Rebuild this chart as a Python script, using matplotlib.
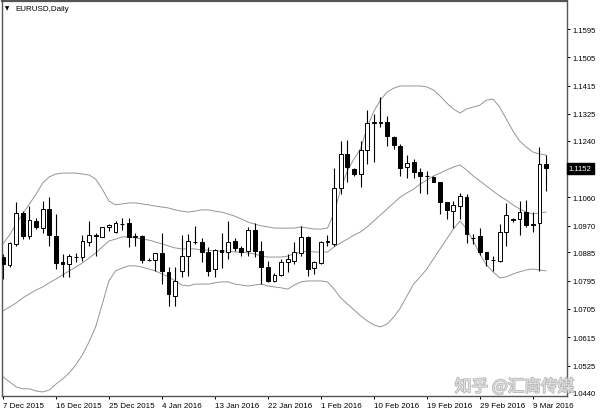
import numpy as np
import matplotlib
matplotlib.use('Agg')
import matplotlib.pyplot as plt
import matplotlib.patheffects as pe

plt.rcParams['font.family'] = ['Liberation Sans', 'DejaVu Sans']

# x axis labels, one every 8 bars
date_labels = ['7 Dec 2015', '16 Dec 2015', '25 Dec 2015', '4 Jan 2016', '13 Jan 2016',
               '22 Jan 2016', '1 Feb 2016', '10 Feb 2016', '19 Feb 2016', '29 Feb 2016',
               '9 Mar 2016']
price_labels = ['1.1595', '1.1505', '1.1415', '1.1325', '1.1240', '1.1060', '1.0970',
                '1.0885', '1.0795', '1.0705', '1.0615', '1.0525', '1.0440']
last_price = '1.1152'

# daily OHLC
opens = [1.0870, 1.0845, 1.0912, 1.1010, 1.0937, 1.0985, 1.0962, 1.1023, 1.0937, 1.0854,
         1.0848, 1.0870, 1.0870, 1.0918, 1.0940, 1.0934, 1.0966, 1.0950, 1.0976, 1.0978,
         1.0935, 1.0937, 1.0861, 1.0861, 1.0883, 1.0823, 1.0746, 1.0826, 1.0873, 1.0918,
         1.0918, 1.0886, 1.0832, 1.0892, 1.0886, 1.0921, 1.0899, 1.0889, 1.0956, 1.0889,
         1.0838, 1.0794, 1.0813, 1.0854, 1.0857, 1.0883, 1.0934, 1.0835, 1.0851, 1.0917,
         1.0912, 1.1090, 1.1198, 1.1150, 1.1134, 1.1210, 1.1296, 1.1299, 1.1299, 1.1252,
         1.1223, 1.1156, 1.1172, 1.1140, 1.1128, 1.1125, 1.1109, 1.1045, 1.1016, 1.1032,
         1.1061, 1.0931, 1.0937, 1.0886, 1.0862, 1.0857, 1.0950, 1.0988, 1.0991, 1.1013,
         1.0975, 1.0978, 1.1166]
highs = [1.0880, 1.0918, 1.1045, 1.1017, 1.1032, 1.0994, 1.1048, 1.1061, 1.1007, 1.0880,
         1.0880, 1.0883, 1.0940, 1.0985, 1.0947, 1.0967, 1.0975, 1.0985, 1.0994, 1.0994,
         1.0947, 1.0940, 1.0867, 1.0884, 1.0947, 1.0838, 1.0838, 1.0940, 1.0943, 1.0969,
         1.0930, 1.0902, 1.0896, 1.0947, 1.0985, 1.0931, 1.0905, 1.0966, 1.0978, 1.0921,
         1.0857, 1.0819, 1.0864, 1.0880, 1.0918, 1.0969, 1.0936, 1.0857, 1.0920, 1.0940,
         1.1153, 1.1239, 1.1242, 1.1153, 1.1239, 1.1337, 1.1325, 1.1379, 1.1318, 1.1255,
         1.1229, 1.1194, 1.1182, 1.1153, 1.1144, 1.1128, 1.1110, 1.1046, 1.1048, 1.1074,
         1.1070, 1.0943, 1.0962, 1.0887, 1.0873, 1.0975, 1.1042, 1.0994, 1.1048, 1.1051,
         1.1013, 1.1220, 1.1194]
lows = [1.0800, 1.0838, 1.0905, 1.0927, 1.0927, 1.0959, 1.0947, 1.0905, 1.0832, 1.0807,
        1.0807, 1.0854, 1.0858, 1.0905, 1.0873, 1.0933, 1.0953, 1.0948, 1.0956, 1.0902,
        1.0905, 1.0851, 1.0858, 1.0826, 1.0784, 1.0714, 1.0714, 1.0807, 1.0810, 1.0912,
        1.0855, 1.0810, 1.0807, 1.0835, 1.0864, 1.0889, 1.0873, 1.0873, 1.0870, 1.0784,
        1.0791, 1.0791, 1.0810, 1.0823, 1.0848, 1.0873, 1.0810, 1.0816, 1.0848, 1.0905,
        1.0905, 1.1070, 1.1109, 1.1128, 1.1093, 1.1166, 1.1172, 1.1283, 1.1223, 1.1214,
        1.1128, 1.1121, 1.1121, 1.1074, 1.1070, 1.1108, 1.1007, 1.0991, 1.0962, 1.0991,
        1.0915, 1.0912, 1.0877, 1.0842, 1.0826, 1.0854, 1.0905, 1.0982, 1.0940, 1.0966,
        1.0950, 1.0826, 1.1080]
closes = [1.0848, 1.0915, 1.1010, 1.0937, 1.0988, 1.0966, 1.1023, 1.0940, 1.0851, 1.0848,
          1.0873, 1.0871, 1.0921, 1.0940, 1.0937, 1.0966, 1.0972, 1.0978, 1.0975, 1.0934,
          1.0937, 1.0861, 1.0860, 1.0883, 1.0826, 1.0753, 1.0794, 1.0873, 1.0921, 1.0917,
          1.0886, 1.0826, 1.0892, 1.0887, 1.0918, 1.0899, 1.0886, 1.0956, 1.0889, 1.0838,
          1.0794, 1.0813, 1.0854, 1.0864, 1.0886, 1.0934, 1.0832, 1.0854, 1.0918, 1.0920,
          1.1090, 1.1198, 1.1156, 1.1134, 1.1210, 1.1296, 1.1299, 1.1297, 1.1255, 1.1226,
          1.1153, 1.1169, 1.1140, 1.1128, 1.1129, 1.1109, 1.1045, 1.1020, 1.1036, 1.1064,
          1.0943, 1.0930, 1.0886, 1.0864, 1.0860, 1.0950, 1.1004, 1.0990, 1.1013, 1.0972,
          1.0973, 1.1166, 1.1152]

# Bollinger bands as drawn
bb_upper = [1.0912, 1.0940, 1.0975, 1.1007, 1.1039, 1.1070, 1.1105, 1.1125, 1.1134, 1.1137,
            1.1137, 1.1137, 1.1134, 1.1131, 1.1118, 1.1086, 1.1048, 1.1036, 1.1039, 1.1042,
            1.1042, 1.1039, 1.1036, 1.1032, 1.1029, 1.1026, 1.1020, 1.1016, 1.1013, 1.1016,
            1.1020, 1.1020, 1.1016, 1.1013, 1.1007, 1.1000, 1.0991, 1.0981, 1.0975, 1.0969,
            1.0966, 1.0962, 1.0962, 1.0962, 1.0962, 1.0966, 1.0962, 1.0959, 1.0959, 1.0962,
            1.1010, 1.1086, 1.1144, 1.1182, 1.1214, 1.1283, 1.1334, 1.1369, 1.1395, 1.1407,
            1.1414, 1.1414, 1.1414, 1.1414, 1.1411, 1.1401, 1.1382, 1.1360, 1.1341, 1.1328,
            1.1341, 1.1347, 1.1353, 1.1369, 1.1372, 1.1347, 1.1309, 1.1271, 1.1239, 1.1220,
            1.1204, 1.1198, 1.1194]
bb_middle = [1.0699, 1.0711, 1.0724, 1.0740, 1.0753, 1.0765, 1.0775, 1.0788, 1.0800, 1.0813,
             1.0826, 1.0838, 1.0851, 1.0867, 1.0883, 1.0902, 1.0921, 1.0927, 1.0934, 1.0934,
             1.0931, 1.0927, 1.0924, 1.0918, 1.0912, 1.0905, 1.0899, 1.0896, 1.0896, 1.0896,
             1.0892, 1.0892, 1.0889, 1.0889, 1.0889, 1.0886, 1.0886, 1.0883, 1.0880, 1.0873,
             1.0870, 1.0870, 1.0870, 1.0873, 1.0880, 1.0886, 1.0889, 1.0886, 1.0886, 1.0886,
             1.0902, 1.0915, 1.0927, 1.0940, 1.0950, 1.0966, 1.0985, 1.1004, 1.1023, 1.1042,
             1.1061, 1.1074, 1.1086, 1.1102, 1.1115, 1.1128, 1.1137, 1.1147, 1.1156, 1.1163,
             1.1147, 1.1128, 1.1112, 1.1096, 1.1080, 1.1064, 1.1051, 1.1036, 1.1023, 1.1013,
             1.1007, 1.1010, 1.1013]
bb_lower = [1.0489, 1.0473, 1.0457, 1.0451, 1.0451, 1.0444, 1.0441, 1.0447, 1.0466, 1.0482,
            1.0501, 1.0527, 1.0559, 1.0600, 1.0648, 1.0721, 1.0794, 1.0826, 1.0835, 1.0842,
            1.0842, 1.0838, 1.0832, 1.0826, 1.0816, 1.0807, 1.0794, 1.0781, 1.0778, 1.0784,
            1.0784, 1.0784, 1.0788, 1.0791, 1.0791, 1.0784, 1.0781, 1.0778, 1.0781, 1.0784,
            1.0778, 1.0775, 1.0772, 1.0768, 1.0781, 1.0791, 1.0794, 1.0794, 1.0794, 1.0791,
            1.0768, 1.0740, 1.0721, 1.0702, 1.0683, 1.0667, 1.0654, 1.0648, 1.0657, 1.0679,
            1.0708, 1.0746, 1.0784, 1.0807, 1.0832, 1.0864, 1.0896, 1.0927, 1.0959, 1.0985,
            1.0959, 1.0921, 1.0880, 1.0845, 1.0823, 1.0804, 1.0807, 1.0816, 1.0823, 1.0829,
            1.0832, 1.0829, 1.0826]

o = np.array(opens)
h = np.array(highs)
l = np.array(lows)
c = np.array(closes)
x = np.arange(len(o))

fig = plt.figure(figsize=(6, 4.14), dpi=100)
ax = fig.add_axes([0.0038, 0.041, 0.9405, 0.954])

band_col = '#959595'
for band in (bb_upper, bb_middle, bb_lower):
    ax.plot(x, band, color=band_col, lw=0.7, zorder=1)

# wicks, then bodies on top
ax.vlines(x, l, h, color='black', lw=0.8, zorder=2)
up = c >= o
body = np.maximum(np.abs(c - o), 0.00004)
ax.bar(x, body, bottom=np.minimum(o, c), width=0.58,
       color=np.where(up, 'white', 'black'), edgecolor='black', linewidth=0.7, zorder=3)

ax.set_xlim(-0.1, 85.1)
ax.set_ylim(1.0428, 1.1684)

ax.set_xticks(np.arange(len(date_labels)) * 8)
ax.set_xticklabels(date_labels, ha='left')
ax.tick_params(axis='x', length=2.5, width=0.7, pad=1.5, labelsize=5.8)

ax.yaxis.tick_right()
ax.set_yticks([float(s) for s in price_labels])
ax.set_yticklabels(price_labels)
ax.tick_params(axis='y', length=2.5, width=0.7, pad=2, labelsize=5.5)

for sp in ax.spines.values():
    sp.set_color('#555555')
    sp.set_linewidth(1.0)
ax.spines['top'].set_linewidth(1.6)

# current price box
ax.text(1.004, float(last_price), last_price, transform=ax.get_yaxis_transform(),
        ha='left', va='center', color='white', fontsize=5.5, clip_on=False,
        bbox=dict(boxstyle='square,pad=0.3', facecolor='black', edgecolor='black'))

# symbol header
fig.text(0.009, 0.978, '\u25bc', fontsize=4, family='DejaVu Sans', va='center')
fig.text(0.025, 0.978, 'EURUSD,Daily', fontsize=5.8, va='center')

# watermark
fig.text(0.758, 0.063, '知乎 @汇商传媒', fontsize=12, color='#e6e6e6', alpha=0.9,
         va='center', family=['Noto Sans CJK SC', 'DejaVu Sans'],
         path_effects=[pe.withStroke(linewidth=1.2, foreground='#b0b0b0')])

fig.savefig('out.png', dpi=100)
